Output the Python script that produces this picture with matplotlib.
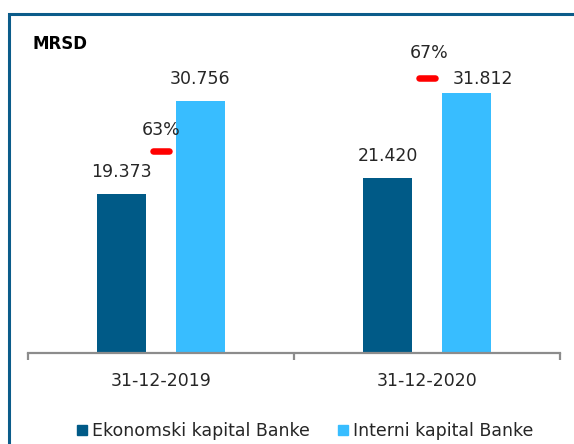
import matplotlib
matplotlib.use("Agg")
import matplotlib.pyplot as plt
from matplotlib.markers import MarkerStyle
from matplotlib.patches import Rectangle
from matplotlib.lines import Line2D
import numpy as np

categories = ["31-12-2019", "31-12-2020"]
ekonomski = [19.373, 21.420]
interni = [30.756, 31.812]
ratio = [0.63, 0.67]
ekonomski_labels = ["19.373", "21.420"]
interni_labels = ["30.756", "31.812"]
ratio_labels = ["63%", "67%"]
series_names = ["Ekonomski kapital Banke", "Interni kapital Banke"]

DARK = "#005A87"
LIGHT = "#38BDFF"
TXT = "#262626"
W, H = 574, 444

fig = plt.figure(figsize=(W / 100, H / 100), dpi=100)
plt.rcParams['font.family'] = ['DejaVu Sans']

# frame border
fig.patches.append(Rectangle((8.5 / W, -0.1), 1.2, (H - 14) / H + 0.1,
                             transform=fig.transFigure, fill=False,
                             edgecolor="#0B5C8A", linewidth=2.2))

ax_bottom = (H - 352.7) / H
ax_top = (H - 25.9) / H
ax = fig.add_axes([28 / W, ax_bottom, (560 - 28) / W, ax_top - ax_bottom])
ax.set_xlim(-0.5, 1.5)
ax.set_ylim(0, 40)

x = np.arange(len(categories))
bw = 0.184
off = 0.147
ax.bar(x - off, ekonomski, bw, color=DARK, zorder=2)
ax.bar(x + off, interni, bw, color=LIGHT, zorder=2)

for xi, v, lab in zip(x - off, ekonomski, ekonomski_labels):
    ax.annotate(lab, (xi, v), xytext=(0, 22), textcoords="offset pixels",
                ha="center", va="center", fontsize=12.5, color=TXT)
int_offsets = [(0, 22), (16.5, 14)]
for xi, v, lab, o in zip(x + off, interni, interni_labels, int_offsets):
    ax.annotate(lab, (xi, v), xytext=o, textcoords="offset pixels",
                ha="center", va="center", fontsize=12.5, color=TXT)

# secondary axis for ratio
ax2 = ax.twinx()
ax2.set_ylim(0.5188, 0.6987)
ax2.axis("off")
ms = MarkerStyle("_", capstyle="round")
ax2.plot(x, ratio, linestyle="none", marker=ms, markersize=11.2,
         markeredgewidth=4.7, color="#FF0000", zorder=3)
pct_offsets = [(0, 21), (2, 25)]
for xi, v, lab, o in zip(x, ratio, ratio_labels, pct_offsets):
    ax2.annotate(lab, (xi, v), xytext=o, textcoords="offset pixels",
                 ha="center", va="center", fontsize=12.5, color=TXT)

# axes styling
for s in ["top", "right", "left"]:
    ax.spines[s].set_visible(False)
ax.spines["bottom"].set_color("#8C8C8C")
ax.spines["bottom"].set_linewidth(1.6)
ax.set_yticks([])
ax.set_xticks(x)
ax.set_xticklabels(categories, fontsize=12.5, color=TXT)
ax.tick_params(axis="x", which="major", length=0, pad=14)
ax.set_xticks([-0.5, 0.5, 1.5], minor=True)
ax.tick_params(axis="x", which="minor", length=5, width=1.6,
               color="#8C8C8C", direction="out")

fig.text(33 / W, (H - 43.5) / H, "MRSD", fontsize=12, fontweight="bold",
         color="#000000", ha="left", va="center")

handles = [Line2D([], [], linestyle="none", marker="s", markersize=7.5,
                  color=c) for c in (DARK, LIGHT)]
fig.legend(handles, series_names, loc="center", ncol=2,
           bbox_to_anchor=(305 / W, (H - 431) / H), frameon=False,
           fontsize=12.5, handlelength=0.6, handletextpad=0.3,
           columnspacing=1.6, labelcolor=TXT)

fig.savefig("out.png", dpi=100)
